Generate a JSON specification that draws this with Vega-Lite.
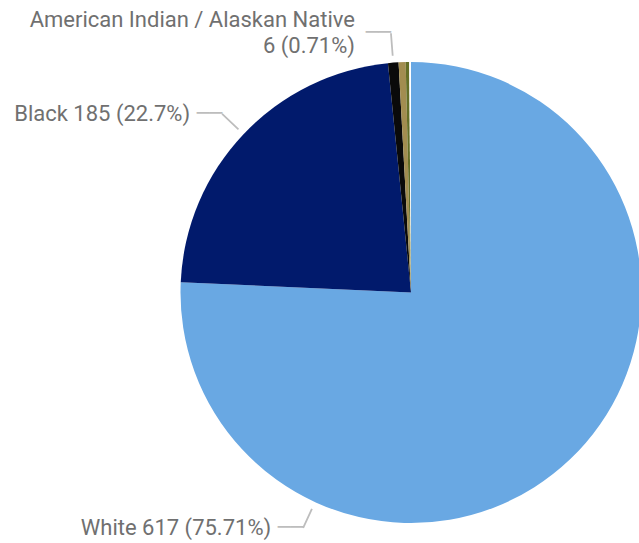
{
  "$schema": "https://vega.github.io/schema/vega-lite/v6.json",
  "width": 456,
  "height": 461,
  "autosize": {"type": "none"},
  "padding": {"left": 183, "top": 62, "right": 0, "bottom": 20},
  "background": "white",
  "config": {"view": {"stroke": null}},
  "data": {
    "values": [
      {"race": "White", "count": 617, "rank": 1, "label": "White 617 (75.71%)"},
      {"race": "Black", "count": 185, "rank": 2, "label": "Black 185 (22.7%)"},
      {"race": "American Indian / Alaskan Native", "count": 6, "rank": 3, "label": ["American Indian / Alaskan Native", "6 (0.71%)"]},
      {"race": "Asian", "count": 4, "rank": 4, "label": ""},
      {"race": "Native Hawaiian / Pacific Islander", "count": 2, "rank": 5, "label": ""},
      {"race": "Unknown", "count": 1, "rank": 6, "label": ""}
    ]
  },
  "layer": [
    {
      "mark": {"type": "arc", "radius": 230.5},
      "encoding": {
        "theta": {"field": "count", "type": "quantitative", "stack": true},
        "order": {"field": "rank", "type": "quantitative", "sort": "ascending"},
        "color": {
          "field": "race",
          "type": "nominal",
          "legend": null,
          "scale": {
            "domain": ["White", "Black", "American Indian / Alaskan Native", "Asian", "Native Hawaiian / Pacific Islander", "Unknown"],
            "range": ["#69A8E3", "#011A6C", "#0A0A0A", "#A28D50", "#646F27", "#FFFFFF"]
          }
        }
      }
    },
    {
      "transform": [{"filter": "datum.race === 'Black'"}],
      "mark": {"type": "arc", "theta": 5.470, "theta2": 5.470, "radius": 260, "radius2": 237.5, "filled": false, "stroke": "#bdbdbd", "strokeWidth": 1.8},
      "encoding": {}
    },
    {
      "transform": [{"filter": "datum.race === 'Black'"}],
      "mark": {"type": "arc", "theta": 6.206, "theta2": 6.206, "radius": 260, "radius2": 237.5, "filled": false, "stroke": "#bdbdbd", "strokeWidth": 1.8},
      "encoding": {}
    },
    {
      "transform": [{"filter": "datum.race === 'Black'"}],
      "mark": {"type": "arc", "theta": 3.571, "theta2": 3.571, "radius": 259, "radius2": 238, "filled": false, "stroke": "#bdbdbd", "strokeWidth": 1.8},
      "encoding": {}
    },
    {
      "mark": {"type": "text", "radius": 260, "align": "right", "baseline": "middle", "dx": -32, "font": "Roboto", "fontSize": 22, "color": "#707070"},
      "encoding": {
        "theta": {"field": "count", "type": "quantitative", "stack": true},
        "order": {"field": "rank", "type": "quantitative", "sort": "ascending"},
        "text": {"condition": {"test": "datum.race !== 'Black'", "value": ""}, "field": "label"}
      }
    },
    {
      "mark": {"type": "text", "radius": 260, "align": "right", "baseline": "middle", "dx": -36, "dy": -13, "font": "Roboto", "fontSize": 22, "color": "#707070", "lineHeight": 26},
      "encoding": {
        "theta": {"field": "count", "type": "quantitative", "stack": true},
        "order": {"field": "rank", "type": "quantitative", "sort": "ascending"},
        "text": {"condition": {"test": "datum.race !== 'American Indian / Alaskan Native'", "value": ""}, "field": "label"}
      }
    },
    {
      "mark": {"type": "text", "radius": 260, "align": "right", "baseline": "middle", "dx": 0, "font": "DejaVu Sans Mono", "fontSize": 21, "color": "#bdbdbd"},
      "encoding": {
        "theta": {"field": "count", "type": "quantitative", "stack": true},
        "order": {"field": "rank", "type": "quantitative", "sort": "ascending"},
        "text": {"condition": {"test": "datum.race === 'Black' || datum.race === 'American Indian / Alaskan Native'", "value": "──"}, "value": ""}
      }
    },
    {
      "transform": [{"filter": "datum.race === 'White'"}],
      "mark": {"type": "text", "theta": 3.571, "radius": 259, "align": "right", "baseline": "middle", "dx": -32, "font": "Roboto", "fontSize": 22, "color": "#707070"},
      "encoding": {"text": {"field": "label"}}
    },
    {
      "transform": [{"filter": "datum.race === 'White'"}],
      "mark": {"type": "text", "theta": 3.571, "radius": 259, "align": "right", "baseline": "middle", "dx": 0, "font": "DejaVu Sans Mono", "fontSize": 21, "color": "#bdbdbd"},
      "encoding": {"text": {"value": "──"}}
    }
  ]
}
